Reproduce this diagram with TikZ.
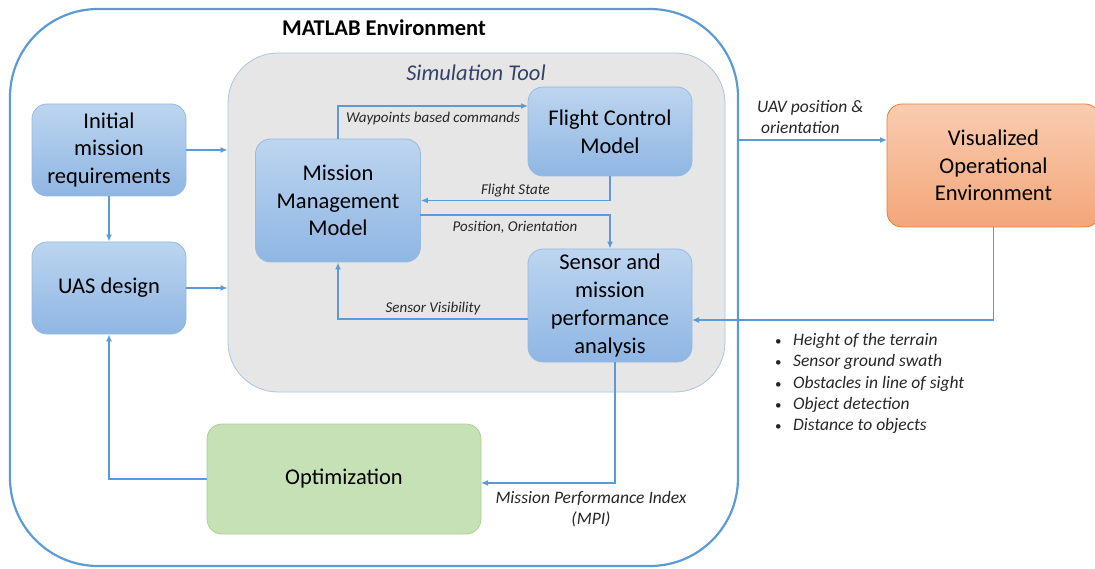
\documentclass[tikz,border=0pt]{standalone}
\usepackage{fontspec}
\setmainfont{Carlito}
\usetikzlibrary{arrows.meta}

\definecolor{linkblue}{RGB}{91,155,213}
\definecolor{boxtop}{RGB}{189,213,239}
\definecolor{boxbot}{RGB}{143,182,227}
\definecolor{boxline}{RGB}{150,186,226}
\definecolor{simfill}{RGB}{231,230,230}
\definecolor{simline}{RGB}{172,196,222}
\definecolor{simtext}{RGB}{52,66,104}
\definecolor{voetop}{RGB}{249,204,176}
\definecolor{voebot}{RGB}{243,166,122}
\definecolor{voeline}{RGB}{237,125,49}
\definecolor{optfill}{RGB}{199,225,182}
\definecolor{optline}{RGB}{170,208,146}

\begin{document}
\begin{tikzpicture}[x=1pt,y=-1pt,
   block/.style={draw=boxline, line width=0.8pt, rounded corners=15pt,
      top color=boxtop, bottom color=boxbot, align=center, inner sep=2pt,
      font=\fontsize{22.5}{27.7}\selectfont},
   link/.style={draw=linkblue, line width=1.4pt, -{Latex[length=7pt,width=6pt]}},
   tag/.style={font=\fontsize{15}{18}\selectfont\itshape, text=black!85, inner sep=1pt},
   note/.style={font=\fontsize{17.5}{21.5}\selectfont\itshape, text=black!85, inner sep=0pt}]
   %% pixel grid of the figure, y downwards
   \useasboundingbox (0,0) rectangle (1095,569);
   
   %% the two frames
   \node[draw=linkblue, line width=2.2pt, rounded corners=88pt,
      minimum width=728pt, minimum height=557pt] (matlab) at (374,287.5) {};
   \node[draw=simline, fill=simfill, line width=0.8pt, rounded corners=50pt,
      minimum width=497pt, minimum height=339pt] (sim) at (476.5,222.5) {};
   \node[font=\bfseries\fontsize{22.5}{27}\selectfont] (title) at (384,28) {MATLAB Environment};
   \node[font=\itshape\fontsize{22.5}{27}\selectfont, text=simtext] (simtitle) at (476,73) {Simulation Tool};
   
   %% blocks
   \node[block, minimum width=154pt, minimum height=92pt] (init) at (109,150) {Initial\\mission\\requirements};
   \node[block, minimum width=154pt, minimum height=92pt] (uas) at (109,288) {UAS design};
   \node[block, minimum width=165pt, minimum height=123pt] (mmm) at (338,200.5) {Mission\\Management\\Model};
   \node[block, minimum width=164pt, minimum height=89pt] (fcm) at (610,131.5) {Flight Control\\Model};
   \node[block, minimum width=164pt, minimum height=113pt] (sens) at (610,305.5) {Sensor and\\mission\\performance\\analysis};
   \node[block, draw=voeline, top color=voetop, bottom color=voebot,
      minimum width=213pt, minimum height=123pt] (voe) at (993.5,165.5) {Visualized\\Operational\\Environment};
   \node[block, draw=optline, top color=optfill, bottom color=optfill,
      minimum width=274pt, minimum height=110pt] (opt) at (344,479) {Optimization};
   
   \coordinate (wpEnd) at (528,106);
   \coordinate (poStart) at (420,215);
   \coordinate (svStart) at (528,319);
   \coordinate (mpiStart) at (615,362);
   \coordinate (mpiEnd) at (481,483);
   \coordinate (uavStart) at (738,140);
   \coordinate (uavEnd) at (887,140);
   \coordinate (obsEnd) at (692,320);
   
   %% connectors
   \draw[link] (init.east) -- (init.east -| sim.west);
   \draw[link] (uas.east) -- (uas.east -| sim.west);
   \draw[link] (init.south) -- (uas.north);
   \draw[link] (mmm.north) |- (wpEnd) node[tag, pos=0.75, below=4pt] {Waypoints based commands};
   \draw[link] (fcm.south) |- (mmm.east) node[tag, pos=0.75, above=2pt] {Flight State};
   \draw[link] (poStart) -| (sens.north) node[tag, pos=0.25, below=4pt] {Position, Orientation};
   \draw[link] (svStart) -| (mmm.south) node[tag, pos=0.25, above=2pt] {Sensor Visibility};
   \draw[link] (mpiStart) |- (mpiEnd);
   \draw[link] (opt.west) -| (uas.south);
   \draw[link] (uavStart) -- (uavEnd);
   \draw[link] (voe.south) |- (obsEnd);
   
   \node[note, align=center] (mpi) at (591,509) {Mission Performance Index\\(MPI)};
   \node[note, align=left, anchor=north west] (uav) at (757,100) {UAV position \&\\\ orientation};
   
   %% data coming back from the environment
   \foreach \i/\t in {0/Height of the terrain,
       1/Sensor ground swath,
       2/Obstacles in line of sight,
       3/Object detection,
       4/Distance to objects}
   {
       \node[note, anchor=west] (item\i) at (775,341+21.3*\i) {\makebox[18pt][l]{\upshape\fontsize{13}{13}\selectfont\textbullet}\t};
   }
   
\end{tikzpicture}
\end{document}
